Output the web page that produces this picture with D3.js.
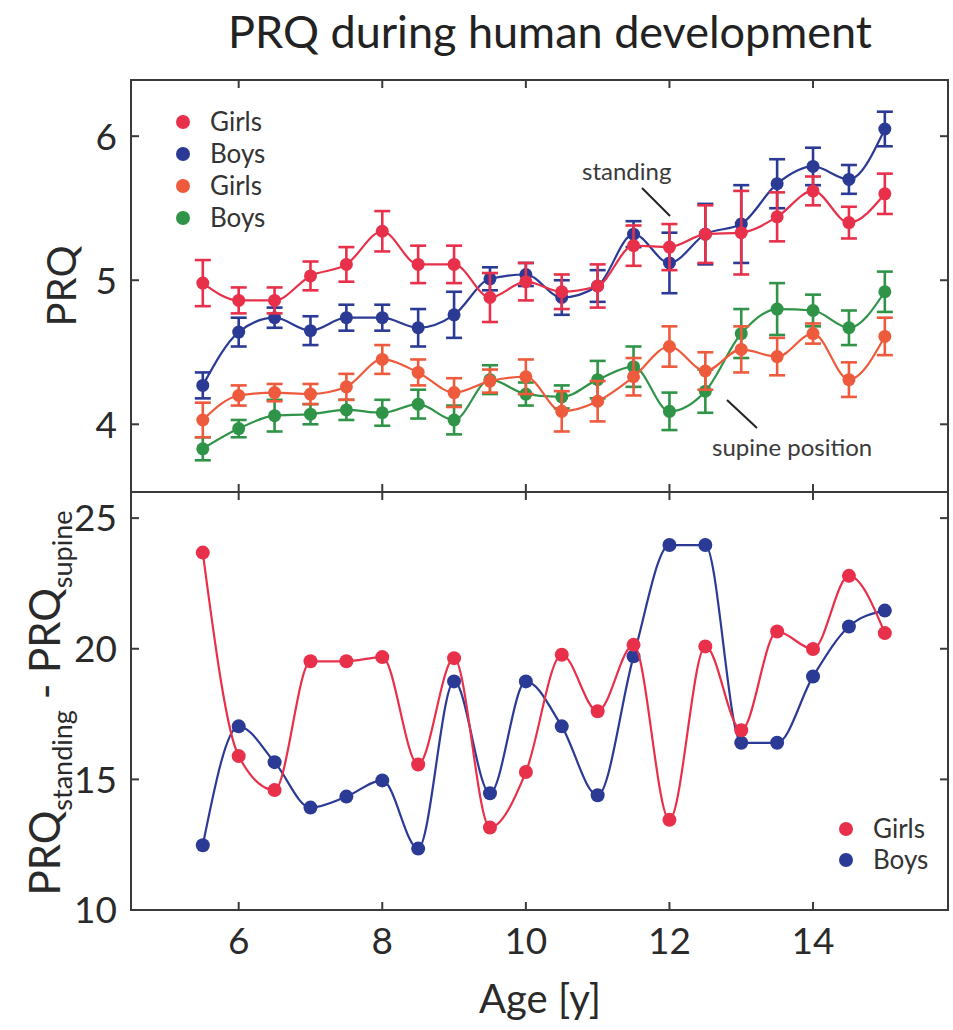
<!DOCTYPE html>
<html>
<head>
<meta charset="utf-8">
<script src="https://cdn.jsdelivr.net/npm/d3@7"></script>
<style>
  body { margin: 0; background: #fff; }
  svg { display: block; font-family: Lato, "Open Sans", sans-serif; }
  .frame { fill: none; stroke: #3a3a3a; stroke-width: 2; }
  .tick-mark { stroke: #3a3a3a; stroke-width: 2; }
  .tick-label { fill: #2a2a2a; font-size: 37px; }
  .axis-label { fill: #2a2a2a; font-size: 40px; }
  .legend-text { fill: #333; font-size: 26px; }
  .note { fill: #3a3a3a; font-size: 24px; }
</style>
</head>
<body>
<div class="visualization"></div>
<script>
// ages (x)
const ages = [5.5, 6, 6.5, 7, 7.5, 8, 8.5, 9, 9.5, 10, 10.5, 11, 11.5, 12, 12.5, 13, 13.5, 14, 14.5, 15];

// PRQ standing
const girlsStanding = [4.98, 4.86, 4.86, 5.03, 5.11, 5.34, 5.11, 5.11, 4.88, 4.99, 4.92, 4.96, 5.24, 5.23, 5.32, 5.33, 5.44, 5.62, 5.40, 5.60];
const girlsStandingErr = [0.16, 0.09, 0.09, 0.10, 0.12, 0.14, 0.13, 0.13, 0.17, 0.13, 0.12, 0.15, 0.14, 0.16, 0.20, 0.29, 0.17, 0.10, 0.11, 0.14];
const boysStanding = [4.27, 4.64, 4.74, 4.65, 4.74, 4.74, 4.67, 4.76, 5.01, 5.04, 4.88, 4.96, 5.32, 5.12, 5.32, 5.39, 5.67, 5.79, 5.70, 6.05];
const boysStandingErr = [0.09, 0.10, 0.07, 0.10, 0.09, 0.09, 0.13, 0.16, 0.08, 0.08, 0.12, 0.11, 0.09, 0.21, 0.21, 0.27, 0.17, 0.13, 0.10, 0.12];

// PRQ supine
const girlsSupine = [4.03, 4.20, 4.22, 4.21, 4.26, 4.45, 4.36, 4.22, 4.30, 4.33, 4.09, 4.16, 4.33, 4.54, 4.37, 4.52, 4.47, 4.63, 4.31, 4.61];
const girlsSupineErr = [0.12, 0.07, 0.06, 0.07, 0.09, 0.10, 0.09, 0.10, 0.08, 0.12, 0.14, 0.14, 0.13, 0.14, 0.13, 0.16, 0.13, 0.07, 0.12, 0.13];
const boysSupine = [3.83, 3.97, 4.06, 4.07, 4.10, 4.08, 4.14, 4.03, 4.31, 4.21, 4.19, 4.31, 4.40, 4.09, 4.23, 4.63, 4.80, 4.79, 4.67, 4.92];
const boysSupineErr = [0.08, 0.06, 0.11, 0.07, 0.07, 0.09, 0.10, 0.10, 0.10, 0.08, 0.08, 0.13, 0.14, 0.13, 0.15, 0.17, 0.18, 0.11, 0.12, 0.14];

// PRQ standing - PRQ supine
const diffGirls = [23.68, 15.89, 14.59, 19.52, 19.52, 19.68, 15.57, 19.64, 13.16, 15.28, 19.77, 17.61, 20.15, 13.45, 20.09, 16.88, 20.66, 19.99, 22.79, 20.60];
const diffBoys = [12.48, 17.03, 15.66, 13.92, 14.34, 14.96, 12.35, 18.75, 14.47, 18.75, 17.03, 14.39, 19.71, 23.97, 23.97, 16.40, 16.40, 18.94, 20.85, 21.46];

const ageTicks = [6, 8, 10, 12, 14];
const prqTicks = [4, 5, 6];
const diffTicks = [10, 15, 20, 25];

const colors = { girls: "#e8304a", boys: "#2b3a95", girlsSupine: "#ee5a3c", boysSupine: "#2f9447" };

const width = 953, height = 1030;
const left = 131, right = 948;
const topPanel = { y0: 80, y1: 492 };
const botPanel = { y0: 492, y1: 910 };
const tickLen = 8;

const svg = d3.select(".visualization")
  .append("svg")
  .attr("width", width)
  .attr("height", height)
  .attr("viewBox", `0 0 ${width} ${height}`);

const xScale = d3.scaleLinear().domain([4.5, 15.88]).range([left, right]);
const yTop = d3.scaleLinear().domain([3.53, 6.39]).range([topPanel.y1, topPanel.y0]);
const yBot = d3.scaleLinear().domain([10, 26]).range([botPanel.y1, botPanel.y0]);

const line = (yScale) => d3.line()
  .x(d => { return xScale(d.x) })
  .y(d => { return yScale(d.y) })
  .curve(d3.curveMonotoneX);

function drawFrame(panel, yScale, yTicks, showXLabels) {
  const g = svg.append("g");
  g.append("rect")
    .attr("class", "frame")
    .attr("x", left)
    .attr("y", panel.y0)
    .attr("width", right - left)
    .attr("height", panel.y1 - panel.y0);

  // x ticks, inward, bottom and top
  g.selectAll(".xt-bottom")
    .data(ageTicks)
    .enter().append("line")
    .attr("class", "tick-mark")
    .attr("x1", d => { return xScale(d) })
    .attr("x2", d => { return xScale(d) })
    .attr("y1", panel.y1)
    .attr("y2", panel.y1 - tickLen);
  g.selectAll(".xt-top")
    .data(ageTicks)
    .enter().append("line")
    .attr("class", "tick-mark")
    .attr("x1", d => { return xScale(d) })
    .attr("x2", d => { return xScale(d) })
    .attr("y1", panel.y0)
    .attr("y2", panel.y0 + tickLen);

  // y ticks, inward, left and right
  g.selectAll(".yt-left")
    .data(yTicks)
    .enter().append("line")
    .attr("class", "tick-mark")
    .attr("x1", left)
    .attr("x2", left + tickLen)
    .attr("y1", d => { return yScale(d) })
    .attr("y2", d => { return yScale(d) });
  g.selectAll(".yt-right")
    .data(yTicks)
    .enter().append("line")
    .attr("class", "tick-mark")
    .attr("x1", right)
    .attr("x2", right - tickLen)
    .attr("y1", d => { return yScale(d) })
    .attr("y2", d => { return yScale(d) });

  g.selectAll(".yl")
    .data(yTicks)
    .enter().append("text")
    .attr("class", "tick-label")
    .attr("x", left - 14)
    .attr("y", d => { return yScale(d) })
    .attr("dy", "0.36em")
    .attr("text-anchor", "end")
    .text(d => { return d });

  if (showXLabels) {
    g.selectAll(".xl")
      .data(ageTicks)
      .enter().append("text")
      .attr("class", "tick-label")
      .attr("x", d => { return xScale(d) })
      .attr("y", panel.y1 + 44)
      .attr("text-anchor", "middle")
      .text(d => { return d });
  }
}

function drawSeries(yScale, values, errs, color, r) {
  const pts = ages.map((a, i) => { return { x: a, y: values[i], e: errs ? errs[i] : 0 } });
  const g = svg.append("g");
  g.append("path")
    .datum(pts)
    .attr("fill", "none")
    .attr("stroke", color)
    .attr("stroke-width", 2.2)
    .attr("d", line(yScale));

  if (errs) {
    const cap = 8;
    const eb = g.selectAll(".err")
      .data(pts)
      .enter().append("g")
      .attr("stroke", color)
      .attr("stroke-width", 2.6);
    eb.append("line")
      .attr("x1", d => { return xScale(d.x) })
      .attr("x2", d => { return xScale(d.x) })
      .attr("y1", d => { return yScale(d.y - d.e) })
      .attr("y2", d => { return yScale(d.y + d.e) });
    eb.append("line")
      .attr("x1", d => { return xScale(d.x) - cap })
      .attr("x2", d => { return xScale(d.x) + cap })
      .attr("y1", d => { return yScale(d.y + d.e) })
      .attr("y2", d => { return yScale(d.y + d.e) });
    eb.append("line")
      .attr("x1", d => { return xScale(d.x) - cap })
      .attr("x2", d => { return xScale(d.x) + cap })
      .attr("y1", d => { return yScale(d.y - d.e) })
      .attr("y2", d => { return yScale(d.y - d.e) });
  }

  g.selectAll(".dot")
    .data(pts)
    .enter().append("circle")
    .attr("cx", d => { return xScale(d.x) })
    .attr("cy", d => { return yScale(d.y) })
    .attr("r", r)
    .attr("fill", color);
}

function drawLegend(x, y, items, gap) {
  const g = svg.append("g");
  items.forEach((it, i) => {
    g.append("circle")
      .attr("cx", x)
      .attr("cy", y + i * gap)
      .attr("r", 7)
      .attr("fill", it.color);
    g.append("text")
      .attr("class", "legend-text")
      .attr("x", x + 27)
      .attr("y", y + i * gap)
      .attr("dy", "0.36em")
      .text(it.label);
  });
}

// title
svg.append("text")
  .attr("x", 550)
  .attr("y", 48)
  .attr("text-anchor", "middle")
  .attr("fill", "#222")
  .attr("font-size", 45)
  .text("PRQ during human development");

// top panel
drawFrame(topPanel, yTop, prqTicks, false);
drawSeries(yTop, boysSupine, boysSupineErr, colors.boysSupine, 6.5);
drawSeries(yTop, girlsSupine, girlsSupineErr, colors.girlsSupine, 6.5);
drawSeries(yTop, boysStanding, boysStandingErr, colors.boys, 6.5);
drawSeries(yTop, girlsStanding, girlsStandingErr, colors.girls, 6.5);

drawLegend(183, 122, [
  { label: "Girls", color: colors.girls },
  { label: "Boys", color: colors.boys },
  { label: "Girls", color: colors.girlsSupine },
  { label: "Boys", color: colors.boysSupine }
], 32);

// annotations
svg.append("text").attr("class", "note").attr("x", 582).attr("y", 180).text("standing");
svg.append("line")
  .attr("x1", 642).attr("y1", 188).attr("x2", 670).attr("y2", 216)
  .attr("stroke", "#222").attr("stroke-width", 2);
svg.append("text").attr("class", "note").attr("x", 712).attr("y", 456).text("supine position");
svg.append("line")
  .attr("x1", 727).attr("y1", 400).attr("x2", 757).attr("y2", 428)
  .attr("stroke", "#222").attr("stroke-width", 2);

svg.append("text")
  .attr("class", "axis-label")
  .attr("transform", `translate(76, ${(topPanel.y0 + topPanel.y1) / 2}) rotate(-90)`)
  .attr("text-anchor", "middle")
  .text("PRQ");

// bottom panel
drawFrame(botPanel, yBot, diffTicks, true);
drawSeries(yBot, diffBoys, null, colors.boys, 7);
drawSeries(yBot, diffGirls, null, colors.girls, 7);

drawLegend(846, 829, [
  { label: "Girls", color: colors.girls },
  { label: "Boys", color: colors.boys }
], 31);

const diffLabel = svg.append("text")
  .attr("class", "axis-label")
  .attr("font-size", 42)
  .attr("transform", `translate(60, ${(botPanel.y0 + botPanel.y1) / 2 + 2}) rotate(-90)`)
  .attr("text-anchor", "middle");
diffLabel.append("tspan").attr("font-size", 42).text("PRQ");
diffLabel.append("tspan").attr("font-size", 27).attr("dy", 12).text("standing");
diffLabel.append("tspan").attr("font-size", 42).attr("dy", -12).text(" - PRQ");
diffLabel.append("tspan").attr("font-size", 27).attr("dy", 12).text("supine");

svg.append("text")
  .attr("class", "axis-label")
  .attr("font-size", 43)
  .attr("x", 540)
  .attr("y", 1013)
  .attr("text-anchor", "middle")
  .text("Age [y]");
</script>
</body>
</html>
